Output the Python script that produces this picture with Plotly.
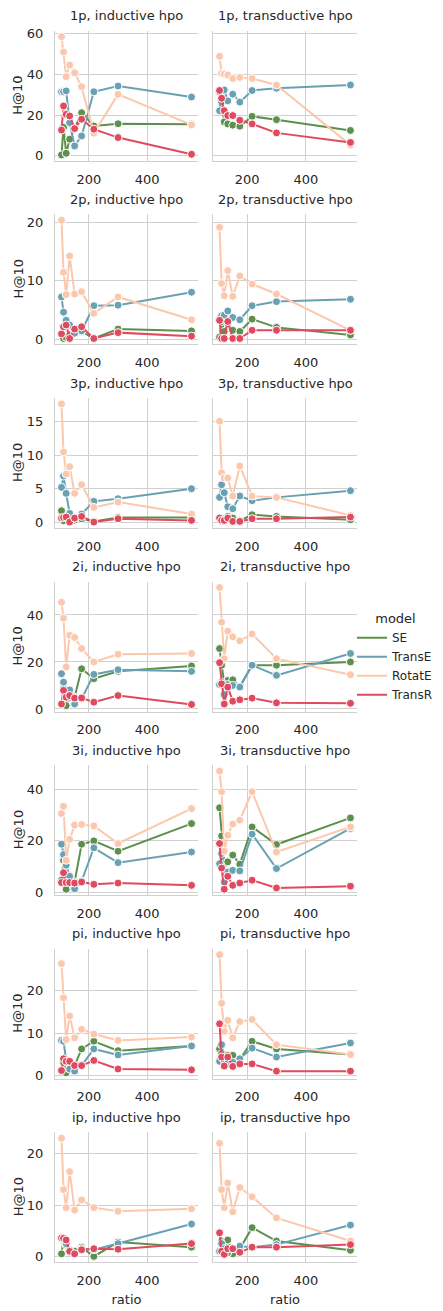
import plotly.graph_objects as go

# sampled ratios (shared by every panel)
ratio = [106, 113, 122, 134, 151, 175, 217, 300, 552]

queries = ["1p", "2p", "3p", "2i", "3i", "pi", "ip"]
hpos = ["inductive", "transductive"]
models = ["SE", "TransE", "RotatE", "TransR"]
colors = {"SE": "#5d8f4d", "TransE": "#68a1b3", "RotatE": "#fcc8ad", "TransR": "#df4a5e"}

# H@10 per query type / hpo setting / model
h10_1p_ind_SE = [0.5, 14.0, 1.3, 8.2, 13.4, 21.2, 14.7, 15.8, 15.5]
h10_1p_ind_TransE = [31.5, 31.5, 31.9, 16.3, 4.9, 9.8, 31.5, 34.3, 28.9]
h10_1p_ind_RotatE = [58.5, 51.0, 38.9, 44.6, 40.8, 34.0, 11.1, 30.2, 15.2]
h10_1p_ind_TransR = [12.7, 24.5, 20.4, 19.6, 13.4, 18.0, 13.1, 9.0, 0.8]
h10_1p_tra_SE = [31.3, 26.7, 16.7, 15.7, 15.1, 14.6, 19.4, 17.8, 12.5]
h10_1p_tra_TransE = [22.2, 31.9, 32.4, 27.0, 30.3, 26.4, 32.1, 33.2, 34.8]
h10_1p_tra_RotatE = [48.9, 40.5, 40.2, 39.7, 38.0, 38.5, 38.0, 34.8, 5.3]
h10_1p_tra_TransR = [32.1, 28.3, 22.2, 19.8, 19.8, 17.5, 15.7, 11.3, 6.6]

h10_2p_ind_SE = [0.7, 0.1, 0.3, 0.7, 1.5, 1.3, 0.1, 1.7, 1.4]
h10_2p_ind_TransE = [7.2, 4.6, 3.2, 2.4, 1.0, 1.4, 5.7, 5.8, 8.0]
h10_2p_ind_RotatE = [20.3, 11.4, 7.6, 14.2, 7.7, 8.1, 4.4, 7.2, 3.3]
h10_2p_ind_TransR = [0.9, 2.1, 2.4, 0.1, 1.7, 2.1, 0.1, 1.1, 0.5]
h10_2p_tra_SE = [0.3, 3.0, 1.3, 2.7, 1.5, 1.3, 3.4, 2.0, 0.7]
h10_2p_tra_TransE = [3.3, 4.0, 4.1, 4.8, 3.7, 3.3, 5.7, 6.4, 6.8]
h10_2p_tra_RotatE = [19.1, 9.5, 7.4, 11.7, 7.3, 10.8, 9.4, 7.7, 1.5]
h10_2p_tra_TransR = [3.2, 0.1, 0.1, 3.0, 0.1, 0.1, 1.5, 1.5, 1.5]

h10_3p_ind_SE = [1.7, 0.2, 0.6, 0.2, 0.3, 0.5, 0.1, 0.7, 0.7]
h10_3p_ind_TransE = [5.2, 6.9, 4.3, 1.3, 0.6, 1.2, 3.1, 3.5, 5.0]
h10_3p_ind_RotatE = [17.7, 10.5, 7.2, 8.3, 4.3, 5.6, 2.2, 3.0, 1.2]
h10_3p_ind_TransR = [0.6, 0.7, 0.75, 0.0, 0.6, 0.85, 0.0, 0.5, 0.25]
h10_3p_tra_SE = [0.5, 0.35, 0.5, 0.85, 0.6, 0.2, 1.1, 0.85, 0.35]
h10_3p_tra_TransE = [3.7, 5.6, 4.4, 2.3, 2.0, 3.9, 3.2, 3.7, 4.7]
h10_3p_tra_RotatE = [15.1, 7.4, 6.6, 6.6, 3.9, 8.4, 3.9, 3.7, 1.0]
h10_3p_tra_TransR = [0.6, 0.25, 0.25, 0.6, 0.1, 0.1, 0.5, 0.5, 0.75]

h10_2i_ind_SE = [2.1, 8.6, 1.4, 5.0, 5.0, 17.1, 12.9, 16.0, 18.3]
h10_2i_ind_TransE = [15.0, 11.4, 6.1, 8.1, 2.1, 4.3, 14.7, 16.7, 16.0]
h10_2i_ind_RotatE = [45.4, 38.6, 17.9, 31.4, 30.4, 25.7, 20.0, 23.3, 23.6]
h10_2i_ind_TransR = [2.1, 7.9, 5.0, 5.7, 4.6, 4.7, 2.9, 5.7, 1.9]
h10_2i_tra_SE = [25.7, 18.6, 10.7, 12.1, 12.4, 9.6, 18.6, 18.6, 20.0]
h10_2i_tra_TransE = [10.4, 11.4, 6.1, 10.4, 10.0, 9.3, 18.6, 14.3, 23.6]
h10_2i_tra_RotatE = [51.7, 36.9, 21.4, 33.1, 30.7, 29.0, 31.9, 21.4, 14.6]
h10_2i_tra_TransR = [19.7, 10.7, 2.1, 9.3, 3.3, 3.9, 4.6, 2.6, 2.4]

h10_3i_ind_SE = [4.8, 12.5, 1.3, 6.1, 4.1, 18.7, 20.0, 16.0, 26.7]
h10_3i_ind_TransE = [18.7, 14.7, 10.6, 6.3, 1.5, 4.5, 17.3, 11.6, 15.7]
h10_3i_ind_RotatE = [30.6, 33.4, 12.5, 20.6, 26.1, 26.3, 25.8, 19.0, 32.5]
h10_3i_ind_TransR = [3.9, 7.7, 3.9, 3.9, 3.7, 4.1, 3.2, 3.7, 2.8]
h10_3i_tra_SE = [32.8, 21.9, 11.2, 11.9, 14.5, 11.0, 25.4, 18.6, 28.9]
h10_3i_tra_TransE = [11.2, 15.1, 4.1, 8.0, 8.6, 8.4, 22.6, 9.3, 24.8]
h10_3i_tra_RotatE = [47.0, 39.0, 16.0, 22.2, 26.5, 28.0, 39.0, 15.7, 25.4]
h10_3i_tra_TransR = [19.0, 9.5, 1.3, 6.3, 2.8, 3.7, 4.8, 1.8, 2.5]

h10_pi_ind_SE = [1.25, 3.2, 0.7, 2.8, 2.4, 6.3, 8.1, 5.9, 7.0]
h10_pi_ind_TransE = [8.3, 8.1, 3.6, 1.6, 1.1, 2.4, 6.3, 4.9, 7.0]
h10_pi_ind_RotatE = [26.3, 18.3, 8.5, 14.0, 8.9, 10.9, 9.8, 8.3, 9.1]
h10_pi_ind_TransR = [1.25, 4.0, 3.4, 3.4, 2.4, 2.4, 3.6, 1.6, 1.4]
h10_pi_tra_SE = [6.3, 5.2, 4.2, 4.8, 4.8, 3.8, 8.1, 6.3, 5.0]
h10_pi_tra_TransE = [3.4, 7.3, 3.6, 3.0, 3.2, 4.0, 6.5, 4.4, 7.7]
h10_pi_tra_RotatE = [28.4, 17.0, 10.4, 13.0, 8.9, 12.7, 13.2, 7.3, 5.0]
h10_pi_tra_TransR = [12.2, 4.4, 2.3, 4.4, 2.2, 2.8, 2.8, 1.1, 1.1]

h10_ip_ind_SE = [0.5, 3.3, 2.2, 1.0, 1.0, 1.8, 0.0, 2.8, 1.8]
h10_ip_ind_TransE = [3.5, 3.3, 2.5, 1.2, 0.5, 1.5, 1.3, 2.5, 6.3]
h10_ip_ind_RotatE = [23.0, 13.0, 9.5, 16.5, 9.0, 11.0, 9.5, 8.8, 9.3]
h10_ip_ind_TransR = [3.6, 3.5, 3.2, 1.0, 0.5, 1.3, 1.5, 1.4, 2.5]
h10_ip_tra_SE = [1.0, 3.0, 2.7, 3.2, 0.5, 1.5, 5.6, 3.0, 1.2]
h10_ip_tra_TransE = [1.0, 2.5, 1.5, 0.7, 1.5, 2.0, 1.8, 2.3, 6.1]
h10_ip_tra_RotatE = [22.0, 13.0, 9.5, 14.3, 8.7, 13.4, 11.6, 7.5, 3.0]
h10_ip_tra_TransR = [4.6, 1.0, 0.4, 1.5, 1.5, 0.8, 1.8, 1.8, 2.3]

yticks = {
    "1p": [0, 20, 40, 60],
    "2p": [0, 10, 20],
    "3p": [0, 5, 10, 15],
    "2i": [0, 20, 40],
    "3i": [0, 20, 40],
    "pi": [0, 10, 20],
    "ip": [0, 10, 20],
}
xticks = [200, 400]


def series(q, hpo, m):
    return globals()["h10_%s_%s_%s" % (q, hpo[:3], m)]


W, H = 443, 1311
col_x = [(55, 198), (213, 357)]
row_top0, row_h, row_pitch = 26, 131, 185
text_col = "#262626"
grid_col = "#d0d0d0"
font = "DejaVu Sans"

xmin, xmax = min(ratio), max(ratio)
xpad = 0.05 * (xmax - xmin)
xrange_ = [xmin - xpad, xmax + xpad]

fig = go.Figure()
layout = {}
annotations = []

for r, q in enumerate(queries):
    vals = [v for hpo in ["ind", "tra"] for m in models for v in series(q, hpo, m)]
    lo, hi = min(vals), max(vals)
    pad = 0.05 * (hi - lo)
    yrange = [lo - pad, hi + pad]
    top = row_top0 + r * row_pitch
    bot = top + row_h
    ydom = [1 - bot / H, 1 - top / H]
    for c, hpo in enumerate(hpos):
        idx = r * 2 + c + 1
        xa = "xaxis" if idx == 1 else "xaxis%d" % idx
        ya = "yaxis" if idx == 1 else "yaxis%d" % idx
        xref = "x" if idx == 1 else "x%d" % idx
        yref = "y" if idx == 1 else "y%d" % idx
        x0, x1 = col_x[c]
        layout[xa] = dict(
            domain=[x0 / W, x1 / W], anchor=yref, range=xrange_,
            tickvals=xticks, showgrid=True, gridcolor=grid_col, gridwidth=1,
            zeroline=False, showline=True, linecolor=grid_col, linewidth=1.2,
            ticks="", ticklabelstandoff=6,
            tickfont=dict(family=font, size=13, color=text_col),
            title=dict(text="ratio" if r == len(queries) - 1 else "",
                       font=dict(family=font, size=13, color=text_col), standoff=7),
        )
        layout[ya] = dict(
            domain=ydom, anchor=xref, range=yrange, tickvals=yticks[q],
            showgrid=True, gridcolor=grid_col, gridwidth=1, zeroline=False,
            showline=True, linecolor=grid_col, linewidth=1.2, ticks="",
            showticklabels=(c == 0), ticklabelstandoff=8,
            tickfont=dict(family=font, size=13, color=text_col),
        )
        annotations.append(dict(
            text="%s, %s hpo" % (q, hpo), xref="paper", yref="paper",
            x=(x0 + x1) / 2 / W, y=1 - (top - 15) / H, xanchor="center",
            yanchor="middle", showarrow=False,
            font=dict(family=font, size=13, color=text_col),
        ))
        if c == 0:
            annotations.append(dict(
                text="H@10", xref="paper", yref="paper", x=18 / W,
                y=1 - (top + bot) / 2 / H, textangle=-90, xanchor="center",
                yanchor="middle", showarrow=False,
                font=dict(family=font, size=13, color=text_col),
            ))
        for m in models:
            fig.add_trace(go.Scatter(
                x=ratio, y=series(q, hpo, m), mode="lines+markers",
                xaxis=xref, yaxis=yref, showlegend=False,
                line=dict(color=colors[m], width=2),
                marker=dict(color=colors[m], size=8,
                            line=dict(color="white", width=1)),
            ))

# legend entries (line only)
for m in models:
    fig.add_trace(go.Scatter(
        x=[None], y=[None], mode="lines", name=m,
        line=dict(color=colors[m], width=2),
    ))

fig.update_layout(
    width=W, height=H, margin=dict(l=0, r=0, t=0, b=0),
    paper_bgcolor="white", plot_bgcolor="white",
    showlegend=True,
    legend=dict(
        x=352 / W, y=1 - 606 / H, xanchor="left", yanchor="top",
        bgcolor="rgba(0,0,0,0)", tracegroupgap=0,
        title=dict(text="model", side="top center",
                   font=dict(family=font, size=13, color=text_col)),
        font=dict(family=font, size=12, color=text_col),
    ),
    annotations=annotations,
    **layout,
)

fig.write_html("out.html")
